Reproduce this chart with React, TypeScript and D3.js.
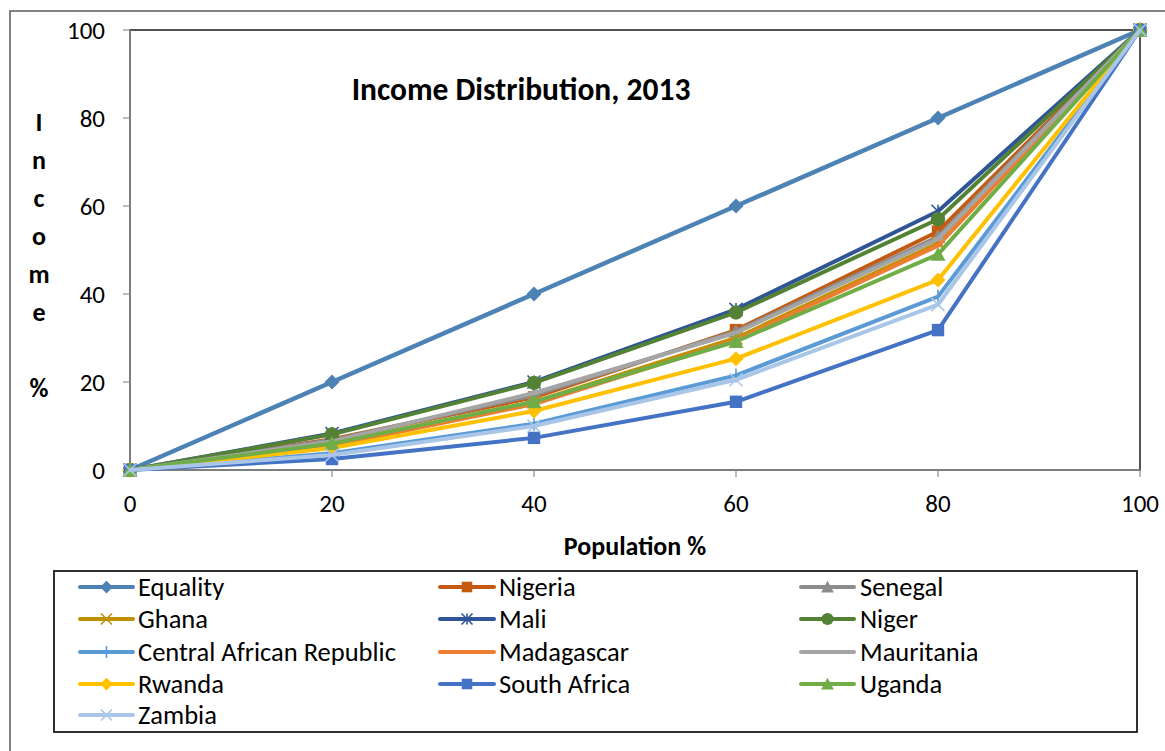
import React from "react";
import * as d3 from "d3";

// Cumulative share of population (x) and of income (y), in percent
const populationPct = [0, 20, 40, 60, 80, 100];

const equality = [0, 20, 40, 60, 80, 100];
const nigeria = [0, 7.0, 16.5, 31.8, 54.2, 100];
const senegal = [0, 6.8, 17.0, 31.5, 53.0, 100];
const ghana = [0, 6.0, 15.5, 30.0, 51.5, 100];
const mali = [0, 8.3, 20.0, 36.5, 58.8, 100];
const niger = [0, 8.1, 19.8, 35.8, 57.0, 100];
const centralAfricanRepublic = [0, 3.8, 10.5, 21.5, 39.4, 100];
const madagascar = [0, 5.5, 15.0, 29.5, 51.0, 100];
const mauritania = [0, 6.5, 17.5, 31.2, 52.5, 100];
const rwanda = [0, 5.0, 13.4, 25.3, 43.2, 100];
const southAfrica = [0, 2.5, 7.3, 15.5, 31.8, 100];
const uganda = [0, 6.0, 15.5, 29.2, 49.0, 100];
const zambia = [0, 3.4, 10.0, 20.5, 37.6, 100];

const xTicks = [0, 20, 40, 60, 80, 100];
const yTicks = [0, 20, 40, 60, 80, 100];

type Marker = "diamond" | "square" | "triangle" | "x" | "star" | "circle" | "plus" | "dash";

const seriesNames = [
  "Equality", "Nigeria", "Senegal", "Ghana", "Mali", "Niger",
  "Central African Republic", "Madagascar", "Mauritania", "Rwanda",
  "South Africa", "Uganda", "Zambia",
];
const seriesValues = [
  equality, nigeria, senegal, ghana, mali, niger,
  centralAfricanRepublic, madagascar, mauritania, rwanda,
  southAfrica, uganda, zambia,
];
const seriesColors = [
  "#4D82B5", "#C55A11", "#8C8C8C", "#BF9000", "#2F5597", "#548235",
  "#5B9BD5", "#ED7D31", "#A5A5A5", "#FFC000", "#4472C4", "#70AD47", "#A9C6E8",
];
const seriesMarkers: Marker[] = [
  "diamond", "square", "triangle", "x", "star", "circle",
  "plus", "dash", "dash", "diamond", "square", "triangle", "x",
];

const FONT = "Calibri, Carlito, Lato, 'Open Sans', sans-serif";

const W = 1165;
const H = 751;
const plot = { left: 130, right: 1140, top: 30, bottom: 470 };

function MarkerShape({ type, color, cx, cy, s = 1 }: { type: Marker; color: string; cx: number; cy: number; s?: number }) {
  switch (type) {
    case "diamond": {
      const r = 7.5 * s;
      return <path d={`M${cx},${cy - r}L${cx + r},${cy}L${cx},${cy + r}L${cx - r},${cy}Z`} fill={color} />;
    }
    case "square": {
      const r = 6.2 * s;
      return <rect x={cx - r} y={cy - r} width={2 * r} height={2 * r} fill={color} />;
    }
    case "triangle": {
      const r = 7.5 * s;
      return <path d={`M${cx},${cy - r}L${cx + r},${cy + r * 0.85}L${cx - r},${cy + r * 0.85}Z`} fill={color} />;
    }
    case "circle":
      return <circle cx={cx} cy={cy} r={7.2 * s} fill={color} />;
    case "x": {
      const r = 6.5 * s;
      return (
        <path d={`M${cx - r},${cy - r}L${cx + r},${cy + r}M${cx + r},${cy - r}L${cx - r},${cy + r}`} stroke={color} strokeWidth={1.6} fill="none" />
      );
    }
    case "star": {
      const r = 6.5 * s;
      return (
        <path
          d={`M${cx - r},${cy - r}L${cx + r},${cy + r}M${cx + r},${cy - r}L${cx - r},${cy + r}M${cx},${cy - r}L${cx},${cy + r}`}
          stroke={color}
          strokeWidth={1.6}
          fill="none"
        />
      );
    }
    case "plus": {
      const r = 7 * s;
      return <path d={`M${cx},${cy - r}L${cx},${cy + r}`} stroke={color} strokeWidth={1.6} fill="none" />;
    }
    case "dash":
      return <rect x={cx - 5 * s} y={cy - 1.5} width={10 * s} height={3} fill={color} />;
  }
}

export default function App() {
  const x = d3.scaleLinear().domain([0, 100]).range([plot.left, plot.right]);
  const y = d3.scaleLinear().domain([0, 100]).range([plot.bottom, plot.top]);

  const line = d3
    .line<number>()
    .x((_, i) => x(populationPct[i]))
    .y((v) => y(v));

  const yLabelLetters = ["I", "n", "c", "o", "m", "e", "", "%"];

  const legendRows = [587, 619, 652, 684, 715];
  const legendCols = [
    { lineX0: 80, lineX1: 133, textX: 138 },
    { lineX0: 440, lineX1: 494, textX: 499 },
    { lineX0: 801, lineX1: 854, textX: 860 },
  ];

  return (
    <svg width={W} height={H} style={{ position: "absolute", left: 0, top: 0, background: "#fff" }} fontFamily={FONT}>
      <rect width={W} height={H} fill="#fff" />
      {/* outer chart frame */}
      <path d={`M10,${H}L10,11L${W},11`} stroke="#595959" strokeWidth={1.5} fill="none" />

      {/* plot area frame */}
      <rect x={plot.left} y={plot.top} width={plot.right - plot.left} height={plot.bottom - plot.top} fill="none" stroke="#1a1a1a" strokeWidth={1.5} />

      {/* axes */}
      <line x1={plot.left} x2={plot.left} y1={plot.top} y2={plot.bottom} stroke="#8c8c8c" strokeWidth={1.5} />
      <line x1={plot.left} x2={plot.right} y1={plot.bottom} y2={plot.bottom} stroke="#8c8c8c" strokeWidth={1.5} />
      {yTicks.map((t) => (
        <g key={`y${t}`}>
          <line x1={plot.left - 7} x2={plot.left} y1={y(t)} y2={y(t)} stroke="#8c8c8c" strokeWidth={1.2} />
          <text x={105} y={y(t)} dy="0.35em" textAnchor="end" fontSize={25} fill="#000">
            {t}
          </text>
        </g>
      ))}
      {xTicks.map((t) => (
        <g key={`x${t}`}>
          <line x1={x(t)} x2={x(t)} y1={plot.bottom} y2={plot.bottom + 7} stroke="#8c8c8c" strokeWidth={1.2} />
          <text x={x(t)} y={503} dy="0.35em" textAnchor="middle" fontSize={25} fill="#000">
            {t}
          </text>
        </g>
      ))}

      {/* series */}
      {seriesValues.map((vals, si) => (
        <g key={seriesNames[si]}>
          <path d={line(vals) ?? ""} fill="none" stroke={seriesColors[si]} strokeWidth={si === 0 ? 4.5 : 4} strokeLinejoin="round" />
          {vals.map((v, i) => (
            <MarkerShape key={i} type={seriesMarkers[si]} color={seriesColors[si]} cx={x(populationPct[i])} cy={y(v)} />
          ))}
        </g>
      ))}

      {/* titles */}
      <text x={521} y={89} dy="0.35em" textAnchor="middle" fontSize={31.5} fontWeight="bold" fill="#000">
        Income Distribution, 2013
      </text>
      <text x={635} y={546} dy="0.35em" textAnchor="middle" fontSize={26} fontWeight="bold" fill="#000">
        Population %
      </text>
      {yLabelLetters.map((ch, i) => (
        <text key={i} x={39} y={122 + i * 38} dy="0.35em" textAnchor="middle" fontSize={26} fontWeight="bold" fill="#000">
          {ch}
        </text>
      ))}

      {/* legend */}
      <rect x={54} y={571} width={1083} height={161} fill="#fff" stroke="#1a1a1a" strokeWidth={1.8} />
      {seriesNames.map((name, si) => {
        const col = legendCols[si % 3];
        const ry = legendRows[Math.floor(si / 3)];
        const mid = (col.lineX0 + col.lineX1) / 2;
        return (
          <g key={`lg${name}`}>
            <line x1={col.lineX0} x2={col.lineX1} y1={ry} y2={ry} stroke={seriesColors[si]} strokeWidth={4} strokeLinecap="round" />
            <MarkerShape type={seriesMarkers[si]} color={seriesColors[si]} cx={mid} cy={ry} s={0.85} />
            <text x={col.textX} y={ry} dy="0.35em" fontSize={26.5} fill="#000">
              {name}
            </text>
          </g>
        );
      })}
    </svg>
  );
}
